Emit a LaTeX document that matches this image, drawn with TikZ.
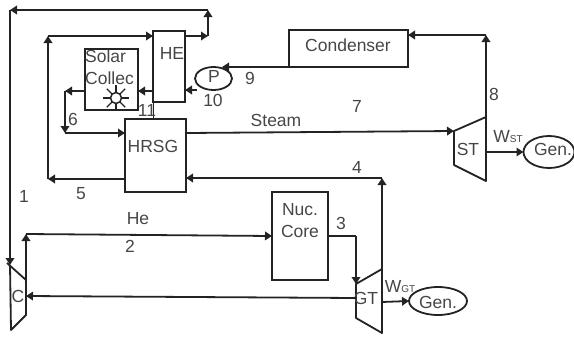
\documentclass[tikz,border=0pt]{standalone}
\usepackage{fontspec}
\setmainfont{Liberation Sans}
\usepackage{xcolor}
\usetikzlibrary{arrows.meta,calc,positioning,shapes.geometric}
\newcommand{\wst}{W{\fontsize{10}{10}\selectfont ST}}
\newcommand{\wgt}{W{\fontsize{10}{10}\selectfont GT}}
\definecolor{inkline}{RGB}{35,35,35}
\definecolor{inktext}{RGB}{70,70,70}

\begin{document}
\begin{tikzpicture}[
  x=1pt, y=-1pt,
  font=\fontsize{17.5}{22}\selectfont,
  text=inktext,
  unit/.style={draw=inkline, line width=1.8pt, outer sep=0pt, inner sep=0pt, align=center},
  gen/.style={draw=inkline, ellipse, line width=1.8pt, outer sep=0pt, inner sep=0pt},
  tag/.style={inner sep=0pt},
  turb/.style={draw=inkline, line width=1.8pt, line join=round},
  arr/.style={-{Triangle[length=7pt,width=8.5pt]}, draw=inkline, line width=1.8pt},
  pipe/.style={draw=inkline, line width=1.8pt}
]
\useasboundingbox (0,0) rectangle (574,338);
% units
\node[unit, minimum width=32pt, minimum height=71pt] (he) at (169,66.5) {};
\node[tag] (hetxt) at (172,53) {HE};
\node[unit, minimum width=53pt, minimum height=61pt] (solar) at (111.5,79.5) {};
\node[tag, align=left, anchor=north west] (solartxt) at (85,50) {Solar\\Collec};
\node[unit, minimum width=61pt, minimum height=73pt] (hrsg) at (155.5,155.5) {};
\node[tag] (hrsgtxt) at (153,146) {HRSG};
\node[unit, minimum width=119pt, minimum height=37pt] (cond) at (348.5,48.5) {};
\node[tag] (condtxt) at (348,45) {Condenser};
\node[unit, minimum width=56pt, minimum height=88pt] (core) at (300,236) {};
\node[tag, align=center] (coretxt) at (300,221) {Nuc.\\Core};
\node[gen, minimum width=37pt, minimum height=23pt] (pump) at (213.5,78.5) {};
\node[tag] (pumptxt) at (214,76) {P};
\node[gen, minimum width=51pt, minimum height=32pt] (gens) at (549,152) {};
\node[tag] (genstxt) at (553,149) {Gen.};
\node[gen, minimum width=58pt, minimum height=28pt] (geng) at (438,301) {};
\node[tag] (gengtxt) at (438,302) {Gen.};
% turbines and compressor
\coordinate (sttop) at (486,117);
\coordinate (stin) at (454,131);
\coordinate (stout) at (486,152);
\draw[turb] (stin) -- (sttop) -- (486,181) -- (454,165) -- cycle;
\node[tag] (sttxt) at (468,149) {ST};
\coordinate (gttop) at (382,269);
\coordinate (gtin) at (356,284);
\coordinate (gtout) at (382,302);
\coordinate (gtleft) at (356,298);
\draw[turb] (gtin) -- (gttop) -- (382,333) -- (356,318) -- cycle;
\node[tag] (gttxt) at (366,298) {GT};
\coordinate (cin) at (10,265);
\coordinate (cout) at (26,280);
\coordinate (cright) at (26,296);
\draw[turb] (7,263) -- (cout) -- (26,315) -- (11,330) -- (10,265);
\node[tag] (ctxt) at (18,296) {C};
% junctions
\coordinate (j1) at (208,36);
\coordinate (j2) at (208,10);
\coordinate (j3) at (10,10);
\coordinate (j4) at (48,179);
\coordinate (j5) at (48,36);
\coordinate (j6) at (65,91);
\coordinate (j7) at (65,133);
\coordinate (j8) at (486,35);
\coordinate (j9) at (356,236);
\coordinate (j10) at (26,234);
\coordinate (j11) at (382,178);
\coordinate (j12) at (197,90);
\coordinate (j13) at (186,133);
\coordinate (j14) at (222,67);
% connectors
\draw[arr] (he.east |- j1) -- (j1);
\draw[arr] (j1) -- (j2);
\draw[arr] (j2) -- (j3);
\draw[arr] (j3) -- (cin);
\draw[arr] (hrsg.west |- j4) -- (j4);
\draw[arr] (j4) -- (j5);
\draw[arr] (j5) -- (he.west |- j5);
\draw[arr] (solar.west |- j6) -- (j6);
\draw[arr] (j6) -- (j7);
\draw[arr] (j7) -- (hrsg.west |- j7);
\draw[arr] (he.west |- j6) -- (solar.east |- j6);
\draw[arr] (j12) -- (he.east |- j12);
\draw[arr] (cond.south west) -- (j14);
\draw[pipe, line width=.8pt] (he.south west) -- (he.south west |- hrsg.north);
\draw[arr] (j13) -- (stin);
\draw[arr] (sttop) -- (j8);
\draw[arr] (j8) -- (cond.east |- j8);
\draw[arr] (stout) -- (gens.west);
\draw[arr] (gttop) -- (j11);
\draw[arr] (j11) -- (hrsg.east |- j11);
\draw[pipe] (core.east) -- (j9);
\draw[arr] (j9) -- (gtin);
\draw[arr] (cout) -- (j10);
\draw[arr] (j10) -- (core.west);
\draw[arr] (gtleft) -- (cright);
\draw[arr] (gtout) -- (geng.west);
% sun
\node[draw=inkline, circle, line width=1.5pt, minimum size=11pt, inner sep=0pt, outer sep=0pt] (sun) at (116,98) {};
\foreach \a in {0,45,...,315} {
  \draw[pipe, line width=1.2pt] ($(sun.center)+(\a:6pt)$) -- ($(sun.center)+(\a:13pt)$);
}
% labels
\node[tag] (l1) at (24,196) {1};
\node[tag] (l2) at (130,246) {2};
\node[tag] (l3) at (341,223) {3};
\node[tag] (l4) at (357,167) {4};
\node[tag] (l5) at (81,194) {5};
\node[tag] (l6) at (73,119) {6};
\node[tag] (l7) at (357,106) {7};
\node[tag] (l8) at (494,94) {8};
\node[tag] (l9) at (250,78) {9};
\node[tag] (l10) at (213,100) {10};
\node[tag] (l11) at (147,110) {11};
\node[tag] (lhe) at (138,219) {He};
\node[tag] (lsteam) at (276,120) {Steam};
\node[tag] (lwst) at (508,137) {\wst};
\node[tag] (lwgt) at (400,287) {\wgt};
\end{tikzpicture}
\end{document}
